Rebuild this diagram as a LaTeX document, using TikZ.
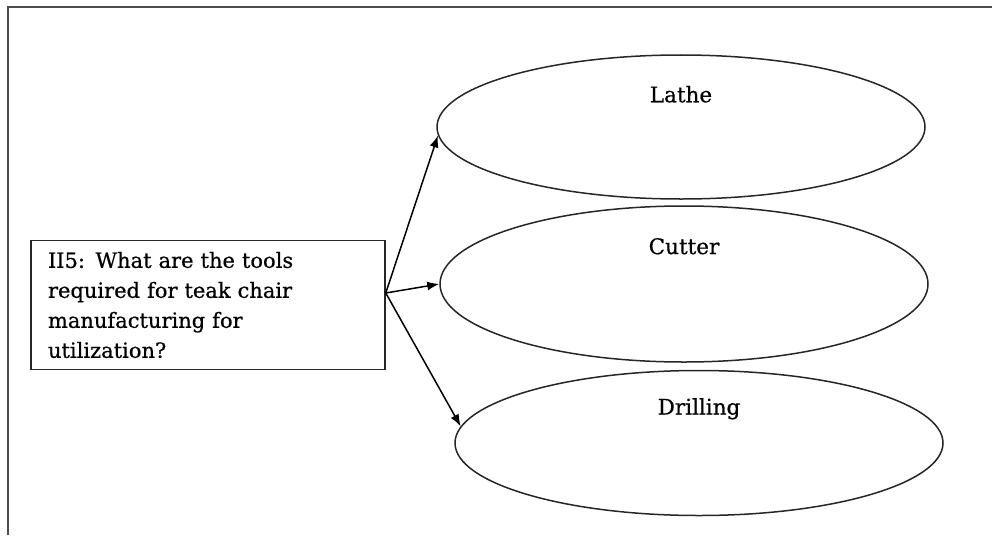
\documentclass[tikz,border=0pt]{standalone}
\usepackage{fontspec}
\setmainfont{DejaVu Serif}[FakeBold=0.6]
\usetikzlibrary{shapes.geometric,arrows.meta}
\begin{document}
\begin{tikzpicture}[x=1pt,y=-1pt,
  frameline/.style={draw=black!70, line width=2.2pt},
  oval/.style={ellipse, draw=black!85, line width=1.5pt, inner sep=0pt,
    minimum width=488pt},
  qbox/.style={rectangle, draw=black!85, line width=1.5pt, inner xsep=17pt,
    text width=320pt, align=left, minimum height=129pt,
    font=\fontsize{21}{30}\selectfont},
  lbl/.style={inner sep=0pt, font=\fontsize{21.5}{24}\selectfont},
  arr/.style={draw=black, line width=1.5pt,
    -{Latex[length=12pt,width=9pt]}}
]
\useasboundingbox (0,0) rectangle (992,535);

% page frame (top and left edges)
\draw[frameline] (8,535) -- (8,7) -- (992,7);

% question box
\node[qbox] (q) at (208,305)
  {II5: What are the tools\\required for teak chair\\manufacturing for\\utilization?};

% answer ovals
\node[oval, minimum height=144pt] (e1) at (681,127) {};
\node[oval, minimum height=156pt] (e2) at (684,284) {};
\node[oval, minimum height=145pt] (e3) at (699,443) {};

\node[lbl] (t1) at ([yshift=-40pt]e1.north) {Lathe};
\node[lbl] (t2) at ([yshift=-41pt]e2.north) {Cutter};
\node[lbl] (t3) at ([yshift=-39pt]e3.north) {Drilling};

% connectors
\coordinate (src) at ([yshift=12pt]q.east);
\draw[arr] (src) -- (e1.182);
\draw[arr] (src) -- (e2.180);
\draw[arr] (src) -- (e3.176);
\end{tikzpicture}
\end{document}
